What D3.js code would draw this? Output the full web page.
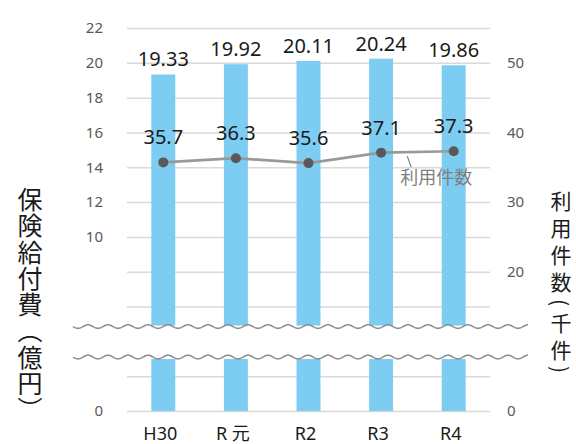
<!DOCTYPE html>
<html>
<head>
<meta charset="utf-8">
<script src="https://cdn.jsdelivr.net/npm/d3@7"></script>
<style>
  body { margin: 0; background: #fff; }
  svg text { font-family: "Noto Sans", "Noto Sans CJK JP", sans-serif; }
</style>
</head>
<body>
<div id="chart"></div>
<script>
// data
const categories = ["H30", "R 元", "R2", "R3", "R4"];
const benefits = [19.33, 19.92, 20.11, 20.24, 19.86];   // 億円 (left axis)
const cases = [35.7, 36.3, 35.6, 37.1, 37.3];          // 千件 (right axis)
const leftTicks = [0, 10, 12, 14, 16, 18, 20, 22];
const rightTicks = [0, 20, 30, 40, 50];
const gridTicks = d3.range(0, 23, 2);

const width = 576, height = 444;
const margin = { top: 28, right: 86, bottom: 33, left: 127 };
const innerW = width - margin.left - margin.right;

const svg = d3.select("#chart")
  .append("svg")
  .attr("width", width)
  .attr("height", height);

const x = d3.scaleBand()
  .domain(categories)
  .range([margin.left, width - margin.right])
  .paddingInner(0.67)
  .paddingOuter(0.335);

const yL = d3.scaleLinear().domain([0, 22]).range([height - margin.bottom, margin.top]);
const yR = d3.scaleLinear().domain([0, 55]).range([height - margin.bottom, margin.top]);

// gridlines
svg.append("g")
  .attr("transform", `translate(${margin.left},0)`)
  .call(d3.axisLeft(yL).tickValues(gridTicks).tickSize(-innerW).tickFormat(""))
  .call(g => g.select(".domain").remove())
  .call(g => g.selectAll("line").attr("stroke", "#d9d9d9").attr("stroke-width", 1.5));

// bars
svg.append("g")
  .selectAll("rect")
  .data(benefits)
  .join("rect")
  .attr("x", (d, i) => x(categories[i]))
  .attr("width", x.bandwidth())
  .attr("y", d => yL(d))
  .attr("height", d => yL(0) - yL(d))
  .attr("fill", "#7dcdf2");

// bar labels
svg.append("g")
  .selectAll("text")
  .data(benefits)
  .join("text")
  .attr("x", (d, i) => x(categories[i]) + x.bandwidth() / 2)
  .attr("y", d => yL(d) - 8)
  .attr("text-anchor", "middle")
  .attr("font-size", 20)
  .attr("fill", "#1a1a1a")
  .text(d => d.toFixed(2));

// axis break band
const bandTop = yL(4.85), bandBot = yL(3.1);
svg.append("rect")
  .attr("x", 70).attr("width", 470)
  .attr("y", bandTop - 1).attr("height", bandBot - bandTop + 3)
  .attr("fill", "#fff");

const wave = y0 => {
  const pts = d3.range(73, 529, 1).map(px => [px, y0 + 1.8 * Math.sin((px - 73) / 20 * 2 * Math.PI)]);
  return d3.line()(pts);
};
[bandTop, bandBot].forEach(wy => {
  svg.append("path")
    .attr("d", wave(wy))
    .attr("fill", "none")
    .attr("stroke", "#8c8c8c")
    .attr("stroke-width", 1.5);
});

// line series
const cx = (d, i) => x(categories[i]) + x.bandwidth() / 2;
svg.append("path")
  .datum(cases)
  .attr("fill", "none")
  .attr("stroke", "#999")
  .attr("stroke-width", 2.7)
  .attr("d", d3.line().x(cx).y(d => yR(d)));

svg.append("g")
  .selectAll("circle")
  .data(cases)
  .join("circle")
  .attr("cx", cx)
  .attr("cy", d => yR(d))
  .attr("r", 5)
  .attr("fill", "#595959");

svg.append("g")
  .selectAll("text")
  .data(cases)
  .join("text")
  .attr("x", cx)
  .attr("y", d => yR(d) - 18)
  .attr("text-anchor", "middle")
  .attr("font-size", 20)
  .attr("fill", "#1a1a1a")
  .text(d => d.toFixed(1));

// callout for the line
const t = 0.36;
const ax = cx(0, 3) + t * (cx(0, 4) - cx(0, 3));
const ay = yR(cases[3] + t * (cases[4] - cases[3]));
svg.append("line")
  .attr("x1", ax).attr("y1", ay + 4)
  .attr("x2", ax + 4).attr("y2", ay + 15)
  .attr("stroke", "#7f7f7f").attr("stroke-width", 1.2);
svg.append("text")
  .attr("x", ax + 29).attr("y", ay + 32)
  .attr("text-anchor", "middle")
  .attr("font-size", 18)
  .attr("fill", "#7f7f7f")
  .style("font-family", "'Noto Sans CJK JP', sans-serif")
  .text("利用件数");

// left axis labels
svg.append("g")
  .attr("transform", `translate(103,0)`)
  .call(d3.axisLeft(yL).tickValues(leftTicks).tickSize(0).tickPadding(0))
  .call(g => g.select(".domain").remove())
  .call(g => g.selectAll("text").attr("font-size", 15).attr("fill", "#595959")
    .style("font-family", "'Noto Sans', sans-serif"));

// right axis labels
svg.append("g")
  .attr("transform", `translate(507,0)`)
  .call(d3.axisRight(yR).tickValues(rightTicks).tickSize(0).tickPadding(0))
  .call(g => g.select(".domain").remove())
  .call(g => g.selectAll("text").attr("font-size", 15).attr("fill", "#595959")
    .style("font-family", "'Noto Sans', sans-serif"));

// category labels
svg.append("g")
  .selectAll("text")
  .data(categories)
  .join("text")
  .attr("x", d => x(d) + x.bandwidth() / 2 - 3)
  .attr("y", 440)
  .attr("text-anchor", "middle")
  .attr("font-size", 18)
  .attr("fill", "#1a1a1a")
  .style("font-family", "'Noto Sans', 'Noto Sans CJK JP', sans-serif")
  .text(d => d);

// axis titles (vertical)
svg.append("text")
  .attr("x", 30).attr("y", 187)
  .style("writing-mode", "vertical-rl")
  .style("letter-spacing", "1.3px")
  .style("font-family", "'Noto Sans CJK JP', sans-serif")
  .attr("font-size", 25)
  .attr("fill", "#1a1a1a")
  .text("保険給付費（億円）");

svg.append("text")
  .attr("x", 561).attr("y", 191)
  .style("writing-mode", "vertical-rl")
  .style("letter-spacing", "6px")
  .style("font-family", "'Noto Sans CJK JP', sans-serif")
  .attr("font-size", 21)
  .attr("fill", "#1a1a1a")
  .text("利用件数(千件)");
</script>
</body>
</html>
